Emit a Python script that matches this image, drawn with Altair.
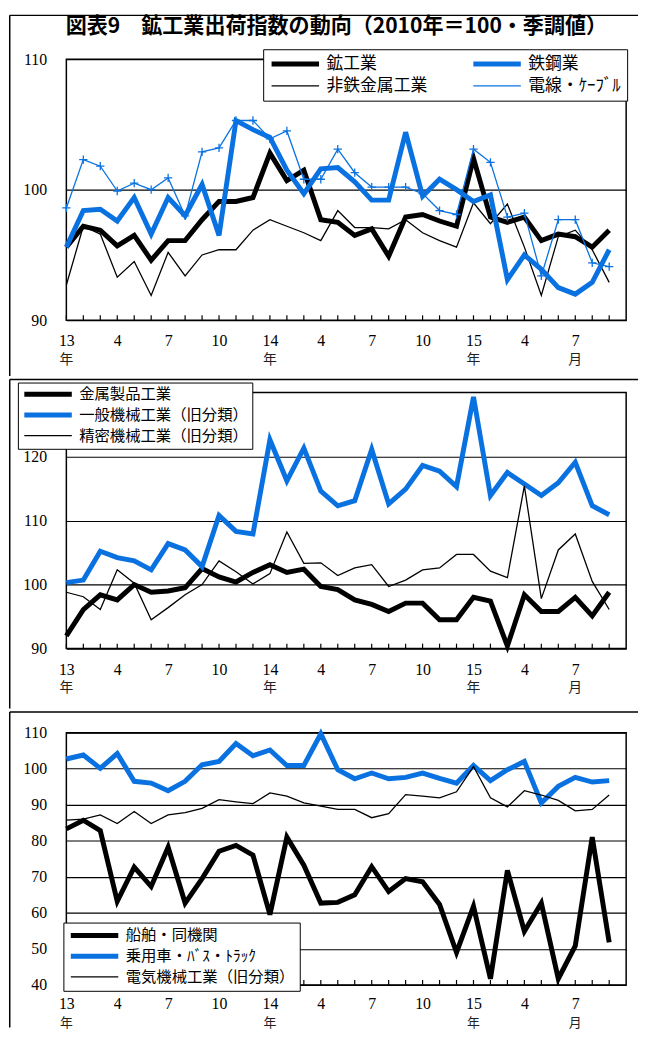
import json
import altair as alt
import pandas as pd

# ---------------- data ----------------
idx = list(range(33))  # 2013/1 .. 2015/9
tick_pos = [0, 3, 6, 9, 12, 15, 18, 21, 24, 27, 30]
tick_top = ['13', '4', '7', '10', '14', '4', '7', '10', '15', '4', '7']
unit_pos = [0, 12, 24, 30]
unit_txt = ['年', '年', '年', '月']

title_text = '図表9　鉱工業出荷指数の動向（2010年＝100・季調値）'

# panel 1 (listed in legend column order: left column then right column)
p1_names = ['鉱工業', '非鉄金属工業', '鉄鋼業', '電線・ｹｰﾌﾞﾙ']
mining = [95.6, 97.2, 96.9, 95.7, 96.5, 94.6, 96.1, 96.1, 97.7, 99.1, 99.1, 99.4, 102.8, 100.7, 101.5, 97.7,
          97.5, 96.5, 97.0, 94.9, 97.9, 98.1, 97.6, 97.2, 102.4, 97.9, 97.5, 97.9, 96.1, 96.6, 96.4, 95.6, 96.9]
nonferrous = [92.7, 97.2, 96.6, 93.3, 94.5, 91.9, 95.2, 93.4, 95.0, 95.4, 95.4, 96.9, 97.7, 97.2, 96.7, 96.1,
              98.4, 97.1, 97.1, 97.0, 97.7, 96.7, 96.1, 95.6, 99.0, 97.4, 98.9, 95.6, 91.9, 96.4, 96.9, 95.4, 92.9]
steel = [95.6, 98.4, 98.5, 97.6, 99.4, 96.6, 99.4, 98.0, 100.4, 96.5, 105.3, 104.6, 104.0, 101.5, 99.7, 101.6,
         101.7, 100.6, 99.2, 99.2, 104.4, 99.5, 100.8, 100.0, 99.1, 99.6, 93.1, 95.0, 93.9, 92.5, 92.0, 92.9, 95.4]
cable = [98.6, 102.3, 101.8, 99.9, 100.5, 100.0, 100.9, 98.0, 102.9, 103.2, 105.3, 105.3, 103.9, 104.5, 100.8, 100.8,
         103.1, 101.3, 100.2, 100.2, 100.2, 99.7, 98.4, 98.1, 103.1, 102.1, 97.9, 98.2, 93.4, 97.7, 97.7, 94.4, 94.1]

# panel 2
p2_names = ['金属製品工業', '一般機械工業（旧分類）', '精密機械工業（旧分類）']
metal = [92.0, 96.1, 98.4, 97.6, 100.0, 98.8, 99.0, 99.5, 102.5, 101.2, 100.4, 101.9, 103.1, 101.9, 102.4, 99.7,
         99.2, 97.6, 96.9, 95.8, 97.1, 97.1, 94.5, 94.5, 98.0, 97.4, 90.4, 98.4, 95.8, 95.8, 98.0, 95.1, 98.8]
general = [100.3, 100.7, 105.2, 104.2, 103.7, 102.3, 106.4, 105.4, 102.8, 110.8, 108.3, 107.9, 122.6, 116.2, 121.3,
           114.6, 112.3, 113.1, 121.1, 112.6, 114.9, 118.6, 117.7, 115.3, 129.3, 113.9, 117.5, 115.7, 113.9, 115.9,
           119.1, 112.3, 110.9]
precision = [98.8, 98.1, 96.1, 102.3, 100.2, 94.5, 96.4, 98.4, 100.0, 103.7, 102.0, 100.1, 101.7, 108.2, 103.3,
             103.4, 101.4, 102.6, 103.1, 99.7, 100.7, 102.3, 102.6, 104.7, 104.7, 102.1, 101.1, 115.4, 97.8, 105.4,
             107.9, 100.5, 96.1]

# panel 3
p3_names = ['船舶・同機関', '乗用車・ﾊﾞｽ・ﾄﾗｯｸ', '電気機械工業（旧分類）']
ship = [83.3, 85.7, 82.8, 63.2, 72.7, 67.3, 78.2, 62.7, 69.5, 77.1, 78.7, 76.0, 59.5, 81.0, 73.2, 62.7,
        62.9, 65.0, 72.8, 65.9, 69.5, 68.6, 62.3, 49.0, 61.8, 41.7, 71.8, 54.9, 62.7, 41.7, 50.8, 81.0, 51.8]
car = [102.7, 103.8, 100.1, 104.2, 96.5, 96.0, 93.9, 96.5, 101.1, 102.0, 107.0, 103.6, 105.2, 100.9, 100.9, 109.7,
       99.7, 97.2, 98.8, 97.2, 97.6, 98.8, 97.3, 96.0, 100.9, 96.7, 99.7, 102.0, 90.5, 95.1, 97.6, 96.3, 96.7]
electric = [85.7, 86.0, 87.2, 84.8, 88.1, 84.8, 87.2, 87.8, 89.0, 91.4, 90.8, 90.3, 93.3, 92.4, 90.5, 89.6,
            88.7, 88.7, 86.4, 87.5, 92.8, 92.4, 91.9, 93.6, 100.6, 91.9, 89.4, 93.9, 92.7, 91.2, 88.3, 88.7, 92.7]

# ---------------- styling ----------------
BLUE = '#0a72e0'
BLACK = '#000000'
W = 566
NUM_FONT = 'Liberation Serif'
JP_FONT = 'Noto Sans CJK JP'

label_arr = [''] * 31
for p, t in zip(tick_pos, tick_top):
    label_arr[p] = t
label_expr = json.dumps(label_arr, ensure_ascii=False) + '[datum.value]'


def long_df(names, series):
    rows = []
    for n, vals in zip(names, series):
        for i, v in zip(idx, vals):
            rows.append({'idx': i, 'series': n, 'value': v})
    return pd.DataFrame(rows)


def panel(names, series, colors, widths, ydomain, yvals, height, legend_kw,
          frame_top, frame_bottom, marker_series=None, title=None, unit_offset=40, unit_size=14,
          xlab_pad=13):
    df = long_df(names, series)
    leg = alt.Legend(title=None, orient='none', labelFont=JP_FONT, labelColor='black',
                     labelLimit=400, fillColor='white', strokeColor='black',
                     symbolType='stroke', symbolSize=2304, labelOffset=5,
                     rowPadding=4, **legend_kw)
    xenc = alt.X('idx:Q', scale=alt.Scale(domain=[0, 33], nice=False, zero=False),
                 axis=alt.Axis(values=tick_pos, labelExpr=label_expr, title=None, ticks=False,
                               tickSize=0, labelFlush=False, labelOverlap=False, labelPadding=xlab_pad,
                               grid=False, domain=False, labelFont=NUM_FONT, labelFontSize=16,
                               labelColor='black'))
    yenc = alt.Y('value:Q', scale=alt.Scale(domain=ydomain, nice=False, zero=False),
                 axis=alt.Axis(values=yvals, title=None, ticks=False, tickSize=0, labelPadding=20,
                               grid=True, gridColor='black', gridWidth=1.2, gridOpacity=1,
                               domain=False, labelFont=NUM_FONT, labelFontSize=16,
                               labelColor='black'))
    lines = alt.Chart(df).mark_line(strokeJoin='miter').encode(
        x=xenc, y=yenc,
        color=alt.Color('series:N', scale=alt.Scale(domain=names, range=colors), legend=leg),
        strokeWidth=alt.StrokeWidth('series:N',
                                    scale=alt.Scale(type='ordinal', domain=names, range=widths),
                                    legend=leg),
    )
    layers = [lines]
    if marker_series is not None:
        mdf = df[df['series'] == marker_series]
        layers.append(alt.Chart(mdf).mark_point(shape='M-1,0H1M0,-1V1', filled=False, size=70,
                                                strokeWidth=1.3, color=BLUE, opacity=1).encode(
            x='idx:Q', y='value:Q'))
    ticks = alt.Chart(pd.DataFrame({'idx': idx})).mark_rule(color='black', strokeWidth=1.2).encode(
        x='idx:Q', y=alt.value(height), y2=alt.value(height - 5))
    layers.append(ticks)
    units = alt.Chart(pd.DataFrame({'idx': unit_pos, 'u': unit_txt})).mark_text(
        font=JP_FONT, fontSize=unit_size, color='#222222', baseline='middle', align='center').encode(
        x='idx:Q', y=alt.value(height + unit_offset), text='u:N')
    layers.append(units)
    one = pd.DataFrame({'a': [0]})
    layers.append(alt.Chart(one).mark_rule(color='black', strokeWidth=1.5).encode(
        x=alt.value(-57.25), y=alt.value(frame_top), y2=alt.value(frame_bottom)))
    layers.append(alt.Chart(one).mark_rule(color='black', strokeWidth=1.5).encode(
        x=alt.value(-57.25), x2=alt.value(578), y=alt.value(frame_top)))
    if title is not None:
        layers.append(alt.Chart(pd.DataFrame({'t': [title]})).mark_text(
            font=JP_FONT, fontSize=21.3, fontWeight='bold', align='center', baseline='middle',
            color='black').encode(x=alt.value(273), y=alt.value(-32), text='t:N'))
    return alt.layer(*layers).properties(width=W, height=height)


p1 = panel(p1_names, [mining, nonferrous, steel, cable], [BLACK, BLACK, BLUE, BLUE], [5, 1.3, 5, 1.3],
           [90, 110], [90, 100, 110], 264,
           dict(legendX=199, legendY=-10, columns=2, columnPadding=44, padding=6, labelFontSize=17,
                clipHeight=18),
           frame_top=-44.25, frame_bottom=320.5, marker_series='電線・ｹｰﾌﾞﾙ', title=title_text)
p2 = panel(p2_names, [metal, general, precision], [BLACK, BLUE, BLACK], [5, 5, 1.3],
           [90, 130], [90, 100, 110, 120], 259,
           dict(legendX=-49, legendY=-10, columns=1, padding=4, labelFontSize=15.5, clipHeight=15.5),
           frame_top=-13, frame_bottom=319.5)
p3 = panel(p3_names, [ship, car, electric], [BLACK, BLUE, BLACK], [5, 5, 1.3],
           [40, 110], [40, 50, 60, 70, 80, 90, 100, 110], 255,
           dict(legendX=-3, legendY=192, columns=1, padding=5, labelFontSize=15.5, clipHeight=16),
           frame_top=-21, frame_bottom=298, unit_offset=39, unit_size=13, xlab_pad=11)

chart = alt.vconcat(p1, p2, p3, spacing=0).resolve_scale(
    color='independent', strokeWidth='independent', x='independent', y='independent'
).resolve_legend(color='independent', strokeWidth='independent').properties(
    padding={'left': 0, 'top': 0, 'right': 0, 'bottom': 0},
    background='white',
).configure_view(stroke='black', strokeWidth=1.5)

chart.save('out.html', embed_options={'renderer': 'svg', 'actions': False})
